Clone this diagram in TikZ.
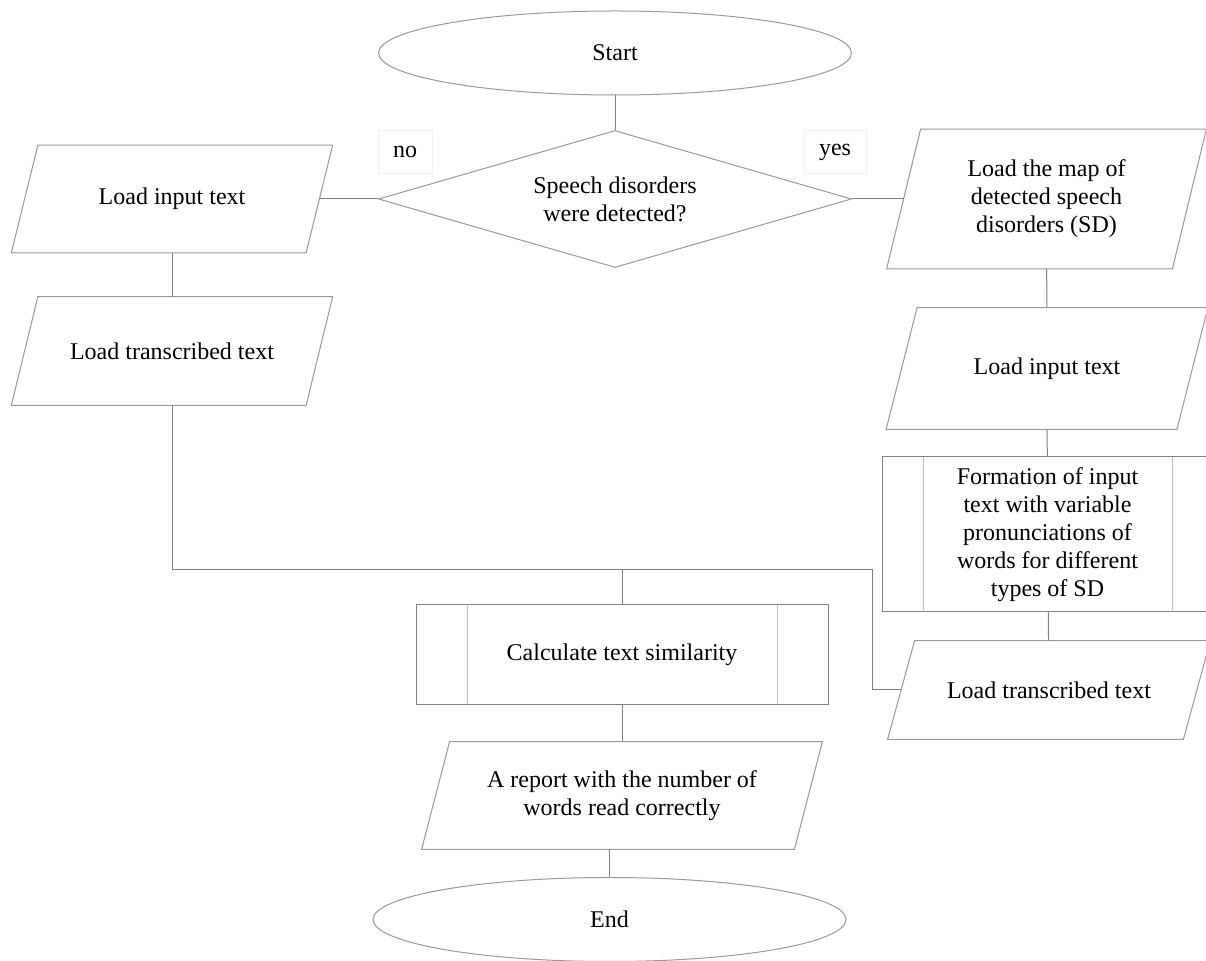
\documentclass[tikz,border=0pt]{standalone}
\usepackage{fontspec}
\setmainfont{Liberation Serif}
\usetikzlibrary{shapes.geometric}

% parallelogram outline round a node: name, half of the slant
\newcommand{\ioshape}[2]{\draw[iolook] ([xshift=#2]#1.north west) -- ([xshift=#2]#1.north east) -- ([xshift=-#2]#1.south east) -- ([xshift=-#2]#1.south west) -- cycle;}

\begin{document}
\begin{tikzpicture}[x=0.5pt,y=0.5pt,yscale=-1,
  every node/.style={font=\fontsize{12}{14}\selectfont, inner sep=0.75pt, align=center},
  line/.style={draw=black!50, line width=0.5pt},
  iolook/.style={draw=black!40, line width=0.5pt},
  term/.style={ellipse, draw=black!40, line width=0.5pt, minimum width=236.5pt, minimum height=42pt},
  decision/.style={diamond, aspect=3.45, draw=black!40, line width=0.5pt, inner sep=0pt, minimum width=236.5pt, minimum height=68.5pt},
  io/.style={rectangle, minimum width=147pt},
  subproc/.style={rectangle, draw=black!50, line width=0.5pt,
    path picture={\draw[black!25, line width=0.5pt] ([xshift=#1]path picture bounding box.north west) -- ([xshift=#1]path picture bounding box.south west) ([xshift=-#1]path picture bounding box.north east) -- ([xshift=-#1]path picture bounding box.south east);}},
  tag/.style={draw=black!6, line width=0.4pt, minimum width=#1, minimum height=21.5pt}
]
\useasboundingbox (0,0) rectangle (1206,961);
\clip (0,0) rectangle (1206,961);
\fill[white] (0,0) rectangle (1206,961);

%Shape: Ellipse
\node[term] (start) at (615,53) {Start};
%Shape: Diamond
\node[decision] (decide) at (615,199) {Speech disorders\\were detected?};
% Text Node
\node[tag=27pt] (no) at (405,152) {no};
\node[tag=31pt] (yes) at (835,152) {yes};

%Left branch
\node[io, minimum height=53.5pt] (lin) at (172,199) {Load input text};
\node[io, minimum height=54pt] (ltr) at (172,351) {Load transcribed text};
\ioshape{lin}{6.65pt}
\ioshape{ltr}{6.65pt}

%Right branch
\node[io, minimum width=142.5pt, minimum height=69.5pt] (map) at (1046.5,199) {Load the map of\\detected speech\\disorders (SD)};
\node[io, minimum width=145pt, minimum height=60.5pt] (rin) at (1047,368.5) {Load input text};
\node[subproc=20.5pt, minimum width=165.5pt, minimum height=77.5pt] (form) at (1047.5,534.5) {Formation of input\\text with variable\\pronunciations of\\words for different\\types of SD};
\node[io, minimum width=147.5pt, minimum height=49pt] (rtr) at (1049,690) {Load transcribed text};
\ioshape{map}{8.5pt}
\ioshape{rin}{7.75pt}
\ioshape{rtr}{6.75pt}

%Bottom
\node[subproc=25.5pt, minimum width=206pt, minimum height=50pt] (calc) at (622,655) {Calculate text similarity};
\node[io, minimum width=186pt, minimum height=53.5pt] (report) at (622,795.5) {A report with the number of\\words read correctly};
\ioshape{report}{7pt}
\node[term] (end) at (609.5,919.5) {End};

\coordinate (merge) at (622,570);

%Connectors
\draw[line] (start) -- (decide);
\draw[line] (decide.west) -- (lin.east);
\draw[line] (decide.east) -- (map.west);
\draw[line] (lin) -- (ltr);
\draw[line] (ltr) |- (merge) -- (calc);
\draw[line] (map) -- (rin);
\draw[line] (rin) -- (form);
\draw[line] (form) -- (rtr);
\draw[line] (rtr.west) -- ++(-29,0) |- (merge);
\draw[line] (calc) -- (report);
\draw[line] (end.north |- report.south) -- (end.north);

\end{tikzpicture}
\end{document}
